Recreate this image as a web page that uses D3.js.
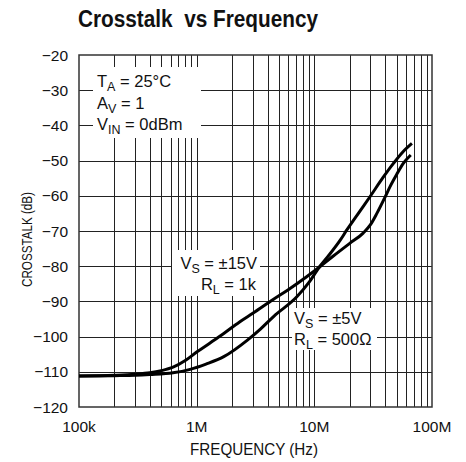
<!DOCTYPE html>
<html>
<head>
<meta charset="utf-8">
<script src="https://cdn.jsdelivr.net/npm/d3@7"></script>
<style>
  body { margin: 0; background: #fff; }
  svg text { font-family: 'Liberation Sans', Arial, sans-serif; fill: #111; }
</style>
</head>
<body>
<div id="chart"></div>
<script>
// chart data
const yTicks = [-20, -30, -40, -50, -60, -70, -80, -90, -100, -110, -120];
const xTicks = [1e5, 1e6, 1e7, 1e8];
const xTickLabels = ['100k', '1M', '10M', '100M'];

// Vs = ±15V, RL = 1k
const freq15 = [1e5, 2e5, 3e5, 4e5, 5e5, 6.3e5, 8e5, 1e6, 1.3e6, 1.7e6, 2.3e6, 3e6, 4.5e6, 6e6, 8.6e6, 11e6, 14.5e6, 20e6, 26e6, 30e6, 34e6, 40e6, 44e6, 50e6, 57e6, 66e6];
const xtalk15 = [-111.2, -111.0, -110.7, -110.3, -109.7, -108.7, -106.8, -104.4, -101.8, -99.1, -95.9, -93.4, -89.4, -86.7, -83.0, -80.3, -77.1, -73.5, -70.6, -68.2, -65.0, -60.3, -57.4, -54.0, -50.8, -48.4];

// Vs = ±5V, RL = 500Ω
const freq5 = [1e5, 2e5, 3e5, 4e5, 6.3e5, 8.8e5, 1.2e6, 1.7e6, 2.7e6, 3.5e6, 4.5e6, 7.1e6, 9e6, 11e6, 13e6, 16.6e6, 18.9e6, 24e6, 29.8e6, 38e6, 47e6, 57e6, 67.5e6];
const xtalk5 = [-111.2, -111.1, -111.0, -110.8, -110.3, -109.3, -107.8, -105.7, -101.0, -97.8, -94.3, -88.7, -84.6, -80.3, -77.3, -72.6, -69.7, -64.7, -60.2, -55.0, -50.8, -47.4, -45.1];

const width = 466;
const height = 462;
const margin = { top: 55, right: 34, bottom: 55, left: 79 };

const svg = d3.select('#chart')
    .append('svg')
    .attr('width', width)
    .attr('height', height);

const x = d3.scaleLog()
    .domain([1e5, 1e8])
    .range([margin.left, width - margin.right]);

const y = d3.scaleLinear()
    .domain([-120, -20])
    .range([height - margin.bottom, margin.top]);

// grid: every 1..9 per decade, every 10 dB
const minor = [];
for (let d = 1e5; d < 1e8; d *= 10) {
    for (let k = 2; k <= 9; k++) minor.push(d * k);
}
const grid = svg.append('g').attr('stroke', '#222').attr('stroke-width', 1);
grid.selectAll('.vx')
    .data(minor.concat([1e6, 1e7]))
    .enter()
    .append('line')
    .attr('x1', d => Math.round(x(d)) + 0.5)
    .attr('x2', d => Math.round(x(d)) + 0.5)
    .attr('y1', y(-20))
    .attr('y2', y(-120));
grid.selectAll('.hy')
    .data(yTicks.slice(1, -1))
    .enter()
    .append('line')
    .attr('y1', d => Math.round(y(d)) + 0.5)
    .attr('y2', d => Math.round(y(d)) + 0.5)
    .attr('x1', x(1e5))
    .attr('x2', x(1e8));

// white boxes behind the labels (they hide the grid)
const boxes = [
    [93, 67, 108, 71],
    [172, 250, 88, 46],
    [292, 308, 85, 42]
];
svg.selectAll('.box')
    .data(boxes)
    .enter()
    .append('rect')
    .attr('x', d => d[0])
    .attr('y', d => d[1])
    .attr('width', d => d[2])
    .attr('height', d => d[3])
    .attr('fill', '#fff');

// frame
svg.append('rect')
    .attr('x', x(1e5))
    .attr('y', y(-20))
    .attr('width', x(1e8) - x(1e5))
    .attr('height', y(-120) - y(-20))
    .attr('fill', 'none')
    .attr('stroke', '#333')
    .attr('stroke-width', 1.5);

// curves
const line = d3.line()
    .x(d => x(d[0]))
    .y(d => y(d[1]))
    .curve(d3.curveMonotoneX);

[[freq15, xtalk15], [freq5, xtalk5]].forEach(s => {
    svg.append('path')
        .datum(d3.zip(s[0], s[1]))
        .attr('d', line)
        .attr('fill', 'none')
        .attr('stroke', '#000')
        .attr('stroke-width', 3)
        .attr('stroke-linejoin', 'round');
});

// axis labels
svg.selectAll('.ytl')
    .data(yTicks)
    .enter()
    .append('text')
    .attr('x', 68)
    .attr('y', d => y(d) + 5.5)
    .attr('text-anchor', 'end')
    .attr('font-size', 15.5)
    .text(d => d3.format('d')(d).replace('-', '\u2212'));

svg.selectAll('.xtl')
    .data(xTicks)
    .enter()
    .append('text')
    .attr('x', d => x(d))
    .attr('y', 432)
    .attr('text-anchor', 'middle')
    .attr('font-size', 15.5)
    .text((d, i) => xTickLabels[i]);

svg.append('text')
    .attr('x', 190)
    .attr('y', 455)
    .attr('font-size', 16.5)
    .attr('textLength', 128)
    .attr('lengthAdjust', 'spacingAndGlyphs')
    .text('FREQUENCY (Hz)');

svg.append('text')
    .attr('transform', 'translate(32,287) rotate(-90)')
    .attr('font-size', 15)
    .attr('textLength', 95)
    .attr('lengthAdjust', 'spacingAndGlyphs')
    .text('CROSSTALK (dB)');

svg.append('text')
    .attr('x', 78)
    .attr('y', 27)
    .attr('font-size', 23.5)
    .attr('font-weight', 'bold')
    .attr('textLength', 240)
    .attr('lengthAdjust', 'spacingAndGlyphs')
    .style('white-space', 'pre')
    .text('Crosstalk  vs Frequency');

// annotation text with subscripts
function label(px, py, main, sub, rest, anchor) {
    const t = svg.append('text')
        .attr('x', px)
        .attr('y', py)
        .attr('font-size', 16.5)
        .attr('text-anchor', anchor || 'start');
    t.append('tspan').text(main);
    t.append('tspan').attr('font-size', 12.5).attr('dy', 4).text(sub);
    t.append('tspan').attr('dy', -4).text(rest);
}
label(97, 87, 'T', 'A', ' = 25\u00B0C');
label(97, 108.5, 'A', 'V', ' = 1');
label(97, 130, 'V', 'IN', ' = 0dBm');
label(257, 268.5, 'V', 'S', ' = \u00B115V', 'end');
label(256, 290, 'R', 'L', ' = 1k', 'end');
label(294, 323.5, 'V', 'S', ' = \u00B15V');
label(294, 345, 'R', 'L', ' = 500\u03A9');
</script>
</body>
</html>
